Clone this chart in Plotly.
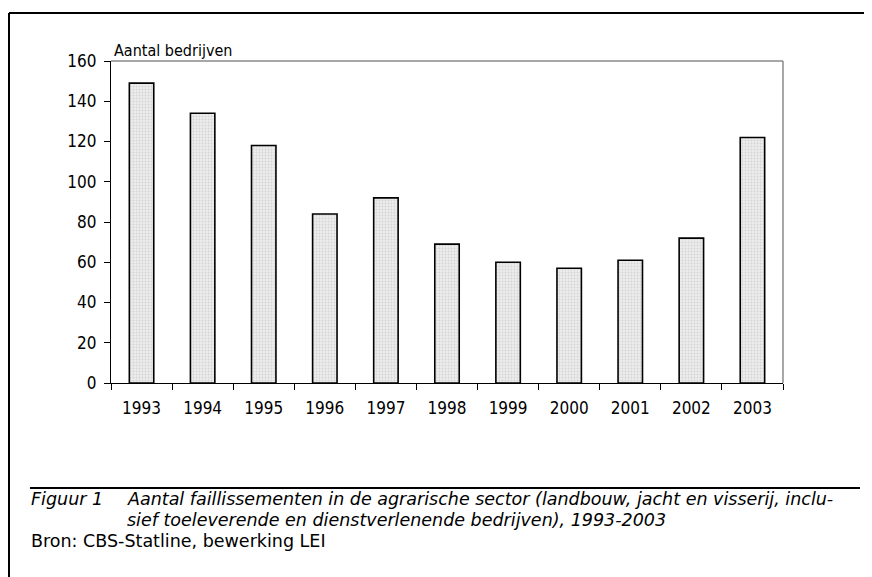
import plotly.graph_objects as go

years = ["1993", "1994", "1995", "1996", "1997", "1998", "1999", "2000", "2001", "2002", "2003"]
faillissementen = [149, 134, 118, 84, 92, 69, 60, 57, 61, 72, 122]
y_title = "Aantal bedrijven"
caption_label = "Figuur 1"
caption_line1 = "Aantal faillissementen in de agrarische sector (landbouw, jacht en visserij, inclu-"
caption_line2 = "sief toeleverende en dienstverlenende bedrijven), 1993-2003"
source_text = "Bron: CBS-Statline, bewerking LEI"

W, H = 872, 577
OFF = 8  # page body margin in the browser
L, R, T, B = 111 - OFF, 783 - OFF, 61 - OFF, 383 - OFF

COND = "DejaVu Sans Condensed, DejaVu Sans, sans-serif"
SANS = "DejaVu Sans, sans-serif"


def px(x):
    return (x - OFF - L) / (R - L)


def py(y):
    return (B - (y - OFF)) / (B - T)


fig = go.Figure()
fig.add_trace(go.Bar(
    x=years,
    y=faillissementen,
    marker=dict(
        color="#e4e4e4",
        line=dict(color="#000000", width=1.6),
        pattern=dict(shape=".", fgcolor="#bcbcbc", bgcolor="#ececec", size=3, solidity=0.3),
    ),
    showlegend=False,
))

shapes = []
shapes.append(dict(type="line", xref="paper", yref="paper", x0=0, x1=1, y0=1, y1=1,
                   line=dict(color="#8a8a8a", width=1.5)))
shapes.append(dict(type="line", xref="paper", yref="paper", x0=1, x1=1, y0=0, y1=1,
                   line=dict(color="#8a8a8a", width=1.5)))
shapes.append(dict(type="line", xref="paper", yref="paper", x0=px(9), x1=px(880), y0=py(13), y1=py(13),
                   line=dict(color="#000000", width=2)))
shapes.append(dict(type="line", xref="paper", yref="paper", x0=px(9), x1=px(9), y0=py(13), y1=py(590),
                   line=dict(color="#000000", width=2)))
shapes.append(dict(type="line", xref="paper", yref="paper", x0=px(30), x1=px(860), y0=py(488), y1=py(488),
                   line=dict(color="#000000", width=2)))

annotations = [
    dict(text=y_title, xref="paper", yref="paper", x=px(112), y=py(50), xanchor="left", yanchor="middle",
         showarrow=False, font=dict(family=COND, size=16, color="#000")),
    dict(text="<i>" + caption_label + "</i>", xref="paper", yref="paper", x=px(29), y=py(499),
         xanchor="left", yanchor="middle", showarrow=False, font=dict(family=SANS, size=17.5, color="#000")),
    dict(text="<i>" + caption_line1 + "</i>", xref="paper", yref="paper", x=px(125), y=py(499),
         xanchor="left", yanchor="middle", showarrow=False, font=dict(family=SANS, size=17.5, color="#000")),
    dict(text="<i>" + caption_line2 + "</i>", xref="paper", yref="paper", x=px(125), y=py(520),
         xanchor="left", yanchor="middle", showarrow=False, font=dict(family=SANS, size=17.5, color="#000")),
    dict(text=source_text, xref="paper", yref="paper", x=px(29), y=py(541),
         xanchor="left", yanchor="middle", showarrow=False, font=dict(family=SANS, size=17.5, color="#000")),
]

fig.update_layout(
    width=W, height=H,
    margin=dict(l=L, r=W - R, t=T, b=H - B, pad=0),
    paper_bgcolor="white", plot_bgcolor="white",
    bargap=0.6,
    shapes=shapes,
    annotations=annotations,
    font=dict(family=COND, size=17, color="#000"),
)
fig.update_xaxes(
    type="category", tickson="boundaries", ticks="outside", ticklen=6, tickcolor="#000", tickwidth=1,
    showline=True, linecolor="#000", linewidth=1.2, showgrid=False, zeroline=False,
    ticklabelstandoff=9,
    tickfont=dict(family=COND, size=17, color="#000"),
)
fig.update_yaxes(
    range=[0, 160], dtick=20, ticks="outside", ticklen=6, tickcolor="#000", tickwidth=1,
    showline=True, linecolor="#000", linewidth=1.2, showgrid=False, zeroline=False,
    ticklabelstandoff=4,
    tickfont=dict(family=COND, size=17, color="#000"),
)

fig.write_html("out.html")
